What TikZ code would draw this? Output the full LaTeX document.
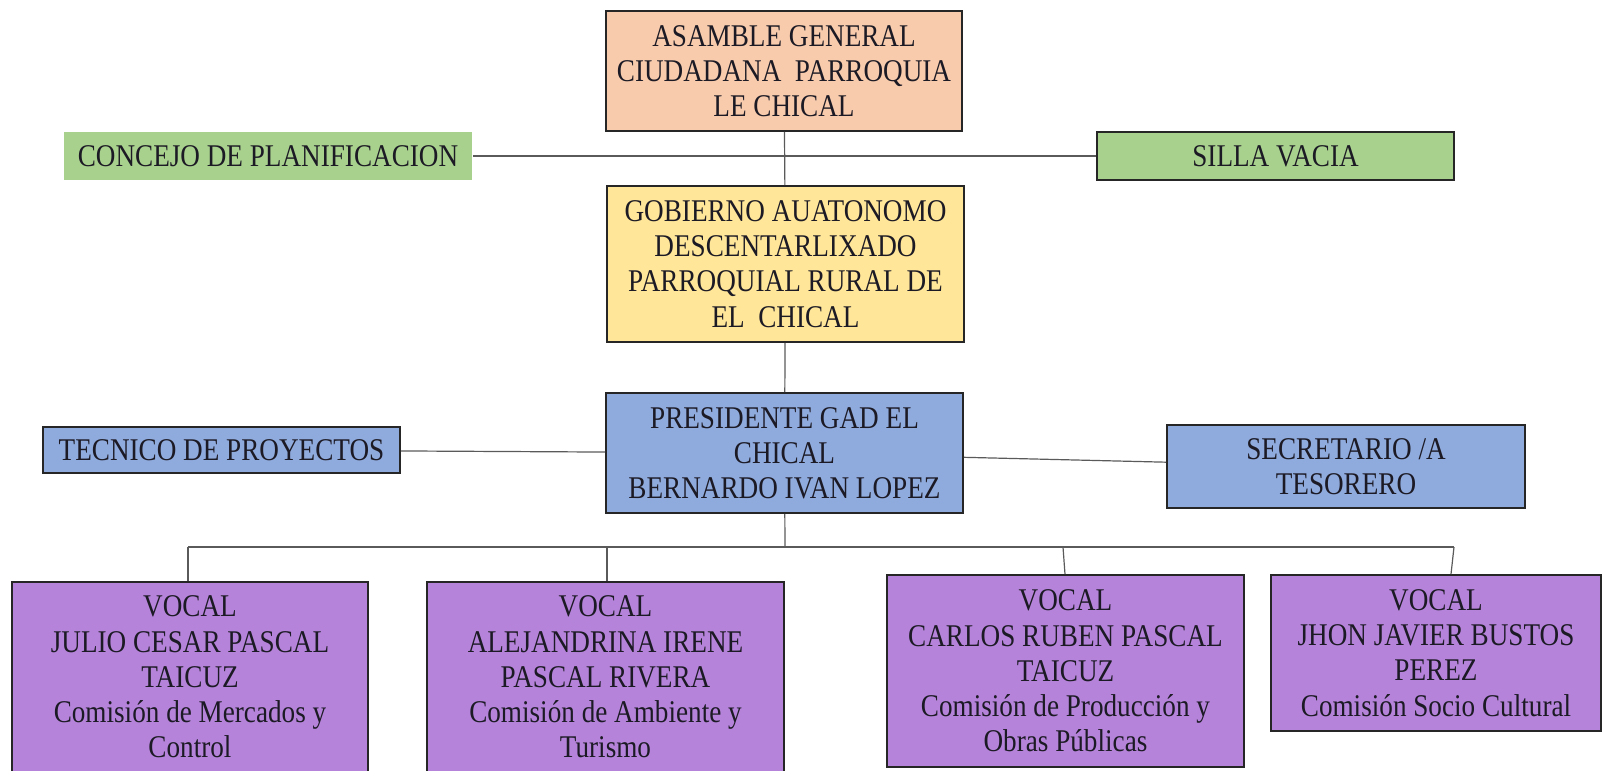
\documentclass[tikz,border=0pt]{standalone}
\usepackage{fontspec}
\setmainfont[FakeStretch=0.86]{Liberation Serif}
\usetikzlibrary{positioning}

\definecolor{durazno}{HTML}{F8CBAD}
\definecolor{verde}{HTML}{A9D18E}
\definecolor{amarillo}{HTML}{FFE699}
\definecolor{azul}{HTML}{8FAADC}
\definecolor{morado}{HTML}{B584DA}
\definecolor{linea}{HTML}{5A5A5A}
\definecolor{borde}{HTML}{262626}
\definecolor{letra}{HTML}{1C1A24}

\tikzset{
	caja/.style={rectangle, draw=borde, line width=0.8pt, text=letra, align=center, inner sep=2pt, font=\fontsize{15.8}{17.6}\selectfont},
	conector/.style={draw=linea, line width=0.6pt},
}

\begin{document}
\begin{tikzpicture}[x=0.5pt, y=-0.5pt]
	\useasboundingbox (0,0) rectangle (1614,771);
	\node[caja, fill=durazno, minimum width=178pt, minimum height=60pt] (asamblea) at (784,71) {ASAMBLE GENERAL\\CIUDADANA \ PARROQUIA\\LE CHICAL};
	\node[caja, fill=verde, draw=none, minimum width=204pt, minimum height=24pt] (concejo) at (268,156) {CONCEJO DE PLANIFICACION};
	\node[caja, fill=verde, minimum width=178.5pt, minimum height=24pt] (silla) at (1275.5,156) {SILLA VACIA};
	\node[caja, fill=amarillo, minimum width=178.5pt, minimum height=78pt] (gobierno) at (785.5,264) {GOBIERNO AUATONOMO\\DESCENTARLIXADO\\PARROQUIAL RURAL DE\\EL \ CHICAL};
	\node[caja, fill=azul, minimum width=178.5pt, minimum height=60pt] (presidente) at (784.5,453) {PRESIDENTE GAD EL\\CHICAL\\BERNARDO IVAN LOPEZ};
	\node[caja, fill=azul, minimum width=178.5pt, minimum height=23pt] (tecnico) at (221.5,450) {TECNICO DE PROYECTOS};
	\node[caja, fill=azul, minimum width=179pt, minimum height=41.5pt] (secretario) at (1346,466.5) {SECRETARIO /A\\TESORERO};
	\node[caja, fill=morado, minimum width=178pt, minimum height=95pt] (vocal1) at (190,677) {VOCAL\\JULIO CESAR PASCAL\\TAICUZ\\Comisión de Mercados y\\Control};
	\node[caja, fill=morado, minimum width=178.5pt, minimum height=95pt] (vocal2) at (605.5,677) {VOCAL\\ALEJANDRINA IRENE\\PASCAL RIVERA\\Comisión de Ambiente y\\Turismo};
	\node[caja, fill=morado, minimum width=178.5pt, minimum height=96pt] (vocal3) at (1065.5,671) {VOCAL\\CARLOS RUBEN PASCAL\\TAICUZ\\Comisión de Producción y\\Obras Públicas};
	\node[caja, fill=morado, minimum width=165pt, minimum height=78pt] (vocal4) at (1436,653) {VOCAL\\JHON JAVIER BUSTOS\\PEREZ\\Comisión Socio Cultural};
	% bus de vocales
	\coordinate (bus) at (785,547);
	\coordinate (b1) at (188,547);
	\coordinate (b2) at (607,547);
	\coordinate (b3) at (1063,547);
	\coordinate (b4) at (1454,547);
	\begin{scope}[on background layer/.try]
	\draw[conector] (asamblea) -- (gobierno);
	\draw[conector] (concejo) -- (silla);
	\draw[conector] (gobierno) -- (presidente);
	\draw[conector] (tecnico) -- (presidente);
	\draw[conector] (presidente) -- (secretario);
	\draw[conector] (presidente) -- (bus);
	\draw[conector] (b1) -- (b4);
	\draw[conector] (b1) -- (vocal1.north -| b1);
	\draw[conector] (b2) -- (vocal2.north -| b2);
	\draw[conector] (b3) -- ([xshift=1pt]vocal3.north -| b3);
	\draw[conector] (b4) -- ([xshift=-1.5pt]vocal4.north -| b4);
	\end{scope}
\end{tikzpicture}
\end{document}
